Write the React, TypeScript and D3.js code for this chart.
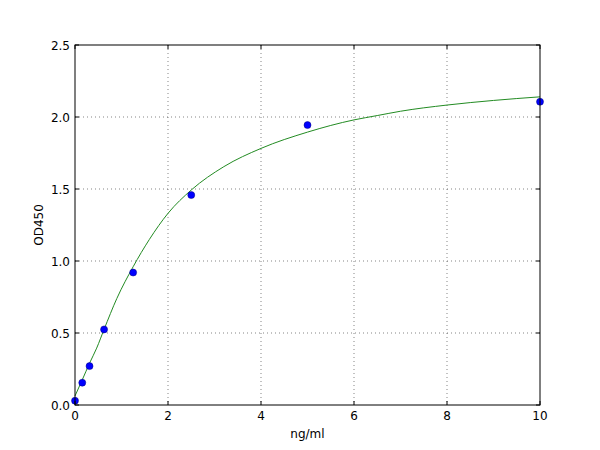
import { useEffect, useRef } from "react";
import * as d3 from "d3";

// standards (ng/ml) and measured OD450
const conc = [0, 0.156, 0.3125, 0.625, 1.25, 2.5, 5, 10];
const od = [0.03, 0.155, 0.27, 0.525, 0.92, 1.458, 1.944, 2.106];

// fitted curve
const fitX = [0, 0.15, 0.3125, 0.466, 0.625, 0.9, 1.25, 1.6, 2.0, 2.5, 3.2, 4.0, 5.0, 6.0, 6.5, 7.0, 8.0, 9.0, 10.0];
const fitY = [0.063, 0.17, 0.29, 0.395, 0.525, 0.74, 0.96, 1.15, 1.331, 1.493, 1.655, 1.782, 1.895, 1.98, 2.01, 2.04, 2.083, 2.115, 2.14];

const xTicks = [0, 2, 4, 6, 8, 10];
const yTicks = [0, 0.5, 1.0, 1.5, 2.0, 2.5];

export default function App() {
  const ref = useRef<SVGSVGElement>(null);

  useEffect(() => {
    if (!ref.current) return;
    const svg = d3.select(ref.current);
    svg.selectAll("*").remove();

    const x = d3.scaleLinear().domain([0, 10]).range([75, 540]);
    const y = d3.scaleLinear().domain([0, 2.5]).range([405, 45]);
    const font = "'DejaVu Sans', sans-serif";

    svg.append("rect").attr("width", 600).attr("height", 450).attr("fill", "#fff");

    // grid
    const grid = svg.append("g").attr("stroke", "#000").attr("stroke-width", 0.6)
      .attr("stroke-dasharray", "1 3").attr("opacity", 0.8);
    xTicks.slice(1, -1).forEach(t => {
      grid.append("line").attr("x1", x(t)).attr("x2", x(t)).attr("y1", 45).attr("y2", 405);
    });
    yTicks.slice(1, -1).forEach(t => {
      grid.append("line").attr("x1", 75).attr("x2", 540).attr("y1", y(t)).attr("y2", y(t));
    });

    // fitted curve
    const pts = fitX.map((v, i) => [v, fitY[i]] as [number, number]);
    svg.append("path")
      .attr("d", d3.line<[number, number]>().x(d => x(d[0])).y(d => y(d[1])).curve(d3.curveMonotoneX)(pts))
      .attr("fill", "none").attr("stroke", "#228b22").attr("stroke-width", 1);

    // points
    svg.append("g").selectAll("circle")
      .data(conc.map((c, i) => [c, od[i]]))
      .join("circle")
      .attr("cx", d => x(d[0])).attr("cy", d => y(d[1])).attr("r", 3.5)
      .attr("fill", "#0000ff").attr("stroke", "#000080").attr("stroke-width", 0.5);

    // frame
    svg.append("rect").attr("x", 75).attr("y", 45).attr("width", 465).attr("height", 360)
      .attr("fill", "none").attr("stroke", "#000").attr("stroke-width", 1);

    // ticks (inward, on all sides)
    const tk = svg.append("g").attr("stroke", "#000").attr("stroke-width", 1);
    xTicks.forEach(t => {
      tk.append("line").attr("x1", x(t)).attr("x2", x(t)).attr("y1", 405).attr("y2", 401);
      tk.append("line").attr("x1", x(t)).attr("x2", x(t)).attr("y1", 45).attr("y2", 49);
    });
    yTicks.forEach(t => {
      tk.append("line").attr("x1", 75).attr("x2", 79).attr("y1", y(t)).attr("y2", y(t));
      tk.append("line").attr("x1", 540).attr("x2", 536).attr("y1", y(t)).attr("y2", y(t));
    });

    // tick labels
    svg.append("g").selectAll("text").data(xTicks).join("text")
      .attr("x", d => x(d)).attr("y", 420).attr("text-anchor", "middle")
      .attr("font-family", font).attr("font-size", 12).text(d => String(d));
    svg.append("g").selectAll("text").data(yTicks).join("text")
      .attr("x", 70).attr("y", d => y(d) + 4.5).attr("text-anchor", "end")
      .attr("font-family", font).attr("font-size", 12).text(d => d.toFixed(1));

    // axis labels
    svg.append("text").attr("x", 307.5).attr("y", 438).attr("text-anchor", "middle")
      .attr("font-family", font).attr("font-size", 12).text("ng/ml");
    svg.append("text").attr("transform", "translate(43,225) rotate(-90)")
      .attr("text-anchor", "middle").attr("font-family", font).attr("font-size", 12).text("OD450");
  }, []);

  return <svg ref={ref} width={600} height={450} style={{ display: "block", margin: -8 }} />;
}
